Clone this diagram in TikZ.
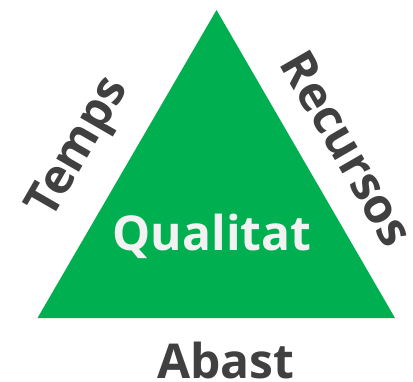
\documentclass[tikz,border=0pt]{standalone}
\usepackage{fontspec}
\setmainfont{Open Sans}
\definecolor{verd}{HTML}{00B050}
\definecolor{gris}{HTML}{404040}
\definecolor{blanc}{HTML}{F2F2F2}
\begin{document}
\begin{tikzpicture}[x=1pt,y=1pt,
  etiq/.style={inner sep=0pt,text=gris,font=\fontsize{48}{52}\selectfont\bfseries}]
\useasboundingbox (0,0) rectangle (413,381);
\coordinate (E) at (37.5,63);
\coordinate (D) at (395,63);
\coordinate (C) at (216.5,371);
\fill[verd] (E) -- (C) -- (D) -- cycle;

\node[etiq,text=blanc,anchor=base] (Q) at (212,130) {Qualitat};
\node[etiq,anchor=base] (A) at (226,3) {Abast};
\node[etiq,rotate=60] (T) at (80,232.5) {Temps};
\node[etiq,rotate=-60] (R) at (347.5,232.5) {Recursos};
%\node (Cost) at (216,20) {Cost};

\end{tikzpicture}
\end{document}
